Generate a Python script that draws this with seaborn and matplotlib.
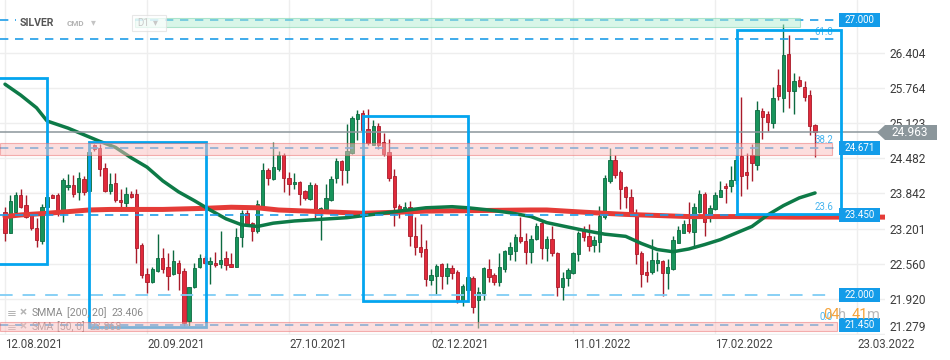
import numpy as np
import pandas as pd
import matplotlib
matplotlib.use("Agg")
import matplotlib.pyplot as plt
import matplotlib.transforms as mtransforms
from matplotlib.patches import Rectangle, Polygon
import seaborn as sns

# daily candles, SILVER (CMD, D1)
opens = [23.51, 23.13, 23.51, 23.81, 23.63, 23.48, 23.22, 22.98, 23.60, 23.81,
         23.81, 23.51, 23.96, 23.99, 23.86, 24.10, 23.88, 24.72, 24.66, 24.31,
         23.89, 24.03, 23.73, 23.67, 23.83, 23.84, 22.90, 22.37, 22.22, 22.43,
         22.66, 22.50, 22.37, 22.57, 22.43, 21.52, 22.13, 22.50, 22.66, 22.56,
         22.58, 22.55, 22.66, 22.56, 22.51, 23.04, 23.49, 23.30, 23.15, 23.60,
         24.27, 24.11, 24.29, 24.54, 24.13, 24.01, 24.05, 23.89, 23.74, 23.99,
         23.53, 23.55, 23.72, 24.12, 24.43, 24.26, 24.58, 25.19, 25.30, 25.01,
         24.73, 25.06, 24.78, 24.60, 24.16, 23.61, 23.54, 23.60, 23.07, 22.86,
         22.83, 22.26, 22.34, 22.55, 22.33, 22.48, 22.41, 21.91, 22.08, 22.30,
         21.90, 22.02, 22.46, 22.36, 22.22, 22.46, 22.74, 22.80, 23.04, 22.98,
         22.78, 23.01, 23.30, 22.84, 23.02, 22.75, 22.13, 22.30, 22.39, 22.73,
         23.15, 23.07, 22.91, 22.96, 23.42, 24.07, 24.45, 24.23, 23.95, 23.78,
         23.49, 22.76, 22.41, 22.42, 22.58, 22.61, 22.39, 22.46, 22.94, 23.13,
         23.29, 23.14, 23.50, 23.83, 23.41, 23.55, 23.78, 23.98, 23.97, 24.08,
         24.52, 24.24, 24.54, 24.35, 25.35, 25.29, 25.13, 25.82, 25.57, 26.38,
         25.71, 25.91, 25.78, 25.63, 25.09]
highs = [23.60, 23.81, 23.87, 23.93, 23.81, 23.51, 23.39, 23.65, 23.85, 23.84,
         23.85, 24.12, 24.19, 24.18, 24.23, 24.16, 24.68, 24.75, 24.74, 24.39,
         24.21, 24.22, 23.93, 23.95, 23.89, 23.93, 22.94, 22.48, 22.51, 23.10,
         22.84, 22.76, 22.81, 22.63, 22.48, 22.14, 22.57, 22.74, 22.70, 22.69,
         22.77, 23.15, 22.80, 22.75, 23.21, 23.54, 23.54, 23.33, 23.72, 24.39,
         24.30, 24.78, 24.61, 24.57, 24.24, 24.21, 24.07, 23.90, 24.05, 24.03,
         23.60, 24.01, 24.15, 24.48, 24.45, 25.11, 25.25, 25.36, 25.36, 25.37,
         25.17, 25.13, 24.94, 24.84, 24.29, 23.65, 23.69, 23.71, 23.42, 23.29,
         22.99, 22.46, 22.56, 22.57, 22.58, 22.54, 22.44, 22.19, 22.36, 22.33,
         22.13, 22.51, 22.64, 22.39, 22.76, 22.81, 22.96, 23.10, 23.42, 23.12,
         23.08, 23.30, 23.36, 23.07, 23.24, 22.78, 22.42, 22.48, 22.78, 23.15,
         23.24, 23.29, 23.07, 23.61, 24.18, 24.66, 24.54, 24.26, 23.98, 23.93,
         23.55, 22.80, 22.62, 23.01, 22.78, 22.63, 22.64, 23.07, 23.24, 23.36,
         23.68, 23.67, 23.90, 23.87, 23.63, 23.87, 24.07, 24.03, 24.34, 24.55,
         25.60, 24.57, 24.74, 25.53, 25.39, 25.35, 25.78, 26.10, 26.93, 26.73,
         26.03, 25.98, 25.89, 25.72, 25.11]
lows = [22.98, 23.12, 23.49, 23.57, 23.39, 23.18, 22.86, 22.92, 23.55, 23.75,
        23.43, 23.33, 23.90, 23.78, 23.73, 23.81, 23.84, 24.62, 24.15, 23.87,
        23.84, 23.69, 23.53, 23.54, 23.75, 22.58, 22.31, 22.02, 22.21, 22.42,
        22.39, 22.08, 22.36, 22.08, 21.42, 21.42, 22.12, 22.48, 22.55, 22.19,
        22.51, 22.48, 22.45, 22.50, 22.50, 22.87, 23.24, 22.98, 23.13, 23.59,
        23.99, 24.09, 24.25, 23.86, 23.81, 23.93, 23.63, 23.72, 23.72, 23.37,
        22.99, 23.54, 23.71, 24.04, 23.99, 24.04, 24.56, 24.81, 24.90, 24.73,
        24.72, 24.65, 24.52, 24.07, 23.25, 23.39, 23.53, 22.88, 22.72, 22.68,
        22.16, 22.17, 22.01, 22.10, 22.19, 22.28, 21.84, 21.79, 22.02, 21.66,
        21.39, 21.90, 22.22, 22.17, 22.16, 22.42, 22.63, 22.62, 22.94, 22.56,
        22.58, 22.99, 22.64, 22.62, 22.70, 21.97, 21.91, 22.16, 22.37, 22.62,
        22.98, 22.80, 22.78, 22.78, 23.37, 24.03, 24.13, 23.55, 23.58, 23.45,
        22.56, 22.13, 22.22, 22.37, 22.43, 21.98, 22.10, 22.45, 22.93, 23.12,
        23.12, 22.84, 23.48, 23.06, 23.33, 23.54, 23.77, 23.67, 23.87, 24.02,
        23.80, 23.92, 24.07, 24.26, 24.83, 24.97, 25.03, 25.54, 25.33, 25.39,
        25.28, 25.78, 25.53, 24.90, 24.50]
closes = [23.13, 23.70, 23.81, 23.60, 23.42, 23.21, 22.99, 23.60, 23.78, 23.76,
          23.53, 24.09, 24.00, 23.84, 24.13, 23.86, 24.60, 24.65, 24.28, 23.89,
          24.01, 23.72, 23.69, 23.83, 23.78, 22.85, 22.36, 22.22, 22.46, 22.66,
          22.46, 22.33, 22.61, 22.40, 21.48, 22.13, 22.48, 22.66, 22.58, 22.61,
          22.53, 22.63, 22.54, 22.51, 23.05, 23.49, 23.27, 23.15, 23.64, 24.27,
          24.12, 24.32, 24.54, 24.12, 24.01, 24.05, 23.84, 23.75, 23.99, 23.55,
          23.57, 23.75, 24.10, 24.43, 24.26, 24.62, 25.22, 25.28, 25.00, 24.76,
          25.06, 24.73, 24.56, 24.13, 23.60, 23.54, 23.59, 23.07, 22.86, 22.78,
          22.28, 22.36, 22.52, 22.33, 22.48, 22.39, 21.91, 22.16, 22.32, 21.78,
          22.04, 22.48, 22.32, 22.22, 22.50, 22.79, 22.86, 23.04, 22.97, 22.78,
          23.01, 23.25, 22.84, 23.02, 22.76, 22.14, 22.30, 22.45, 22.76, 23.12,
          23.04, 22.89, 22.99, 23.43, 24.12, 24.45, 24.18, 23.93, 23.77, 23.49,
          22.74, 22.37, 22.36, 22.63, 22.63, 22.39, 22.51, 22.99, 23.17, 23.29,
          23.15, 23.59, 23.83, 23.33, 23.57, 23.81, 23.90, 23.94, 24.09, 24.45,
          24.16, 24.18, 24.40, 25.36, 25.24, 25.14, 25.57, 25.62, 26.36, 25.71,
          25.89, 25.80, 25.60, 25.07, 24.963]

# time axis labels and the bar each one sits on
date_labels = ["12.08.2021", "20.09.2021", "27.10.2021", "02.12.2021",
               "11.01.2022", "17.02.2022", "23.03.2022"]
date_bars = [0, 27, 54, 81, 108, 135, 162]

price_ticks = [21.279, 21.920, 22.560, 23.201, 23.842, 24.482, 25.123, 25.764, 26.404]

# moving averages
sma50_bars = [0, 3, 6, 8, 12, 15, 18, 21, 24, 27, 30, 33, 36, 39, 42, 45, 48, 51,
              55, 60, 65, 70, 75, 80, 85, 88, 92, 96, 100, 103, 106, 110, 114,
              118, 121, 124, 127, 130, 133, 136, 139, 142, 145, 148, 151, 154]
sma50_vals = [25.83, 25.63, 25.40, 25.16, 25.03, 24.91, 24.79, 24.68, 24.49, 24.32,
              24.07, 23.87, 23.71, 23.54, 23.38, 23.27, 23.24, 23.30, 23.34, 23.37,
              23.40, 23.46, 23.52, 23.58, 23.60, 23.58, 23.54, 23.49, 23.42, 23.31,
              23.25, 23.17, 23.10, 23.06, 22.93, 22.82, 22.78, 22.83, 22.91, 23.00,
              23.12, 23.24, 23.45, 23.62, 23.76, 23.85]
smma200_bars = [0, 3, 8, 12, 16, 20, 30, 38, 43, 48, 52, 60, 68, 75, 80, 90, 100,
                103, 110, 118, 124, 130, 140, 150, 160, 175]
smma200_vals = [23.42, 23.45, 23.48, 23.51, 23.54, 23.55, 23.55, 23.57, 23.59, 23.58,
                23.54, 23.51, 23.48, 23.50, 23.52, 23.53, 23.54, 23.54, 23.50, 23.46,
                23.44, 23.42, 23.42, 23.41, 23.41, 23.41]

# horizontal levels / fibo drawn on the chart
last_price = 24.963
box_levels = [27.000, 24.671, 23.450, 22.000, 21.450]
fib_names = ["61.8", "38.2", "23.6", "0.0"]
fib_levels = [26.647, 24.671, 23.450, 21.450]

# ---------------------------------------------------------------
sns.set_style("white")
plt.rcParams["font.family"] = ["Roboto", "DejaVu Sans"]

W, H = 950, 360
fig = plt.figure(figsize=(W / 100, H / 100), dpi=100)
ax = fig.add_axes([0, 25 / H, 885 / W, 335 / H])
ymin, ymax = 21.264, 27.363
upp = (ymax - ymin) / 335  # price per pixel


def fpx(x, y):
    return x / W, 1 - y / H


bt = mtransforms.blended_transform_factory(ax.transAxes, ax.transData)

o, c = np.array(opens), np.array(closes)
hi, lo = np.array(highs), np.array(lows)
bars = np.arange(len(o))
rising = c >= o
body_col = np.where(rising, "#17945b", "#e12a3b").tolist()
edge_col = np.where(rising, "#0c6a40", "#a91b2a").tolist()

ax.vlines(bars, lo, hi, colors=edge_col, linewidth=1, zorder=2)
ax.bar(bars, np.maximum(np.abs(c - o), 0.015), bottom=np.minimum(o, c), width=0.64,
       color=body_col, edgecolor=edge_col, linewidth=0.6, zorder=2.2)

# moving averages
sns.lineplot(x=smma200_bars, y=smma200_vals, ax=ax, color="#e53b37", linewidth=3.6,
             zorder=3, solid_capstyle="round")
sns.lineplot(x=sma50_bars, y=sma50_vals, ax=ax, color="#0d7a47", linewidth=2.5,
             zorder=3.2, solid_capstyle="round")

# level lines
blue = "#1f9de8"
x_end = 158.4
for lv in [27.000, 26.647, 24.671, 23.450, 21.450]:
    ax.plot([-1, x_end], [lv, lv], color=blue, lw=1.2, dashes=(5, 4), zorder=4)
ax.plot([-1, 157], [22.0, 22.0], color="#7fcdf5", lw=1.3, dashes=(7, 5.5), zorder=4)
ax.axhline(last_price, color="#8b969b", lw=1.1, zorder=4)

# fibo labels
for name, lv in zip(fib_names, fib_levels):
    ax.text(833 / 885, lv + 7.5 * upp, name, transform=bt, ha="right", va="center",
            fontsize=6.9, color="#45b4ef", zorder=4.5)

# boxes
for x0, x1, y0, y1 in [(-3, 8.08, 22.557, 25.943), (15.97, 38.2, 21.415, 24.783),
                       (68.06, 88.0, 21.883, 25.257), (139.1, 158.9, 23.467, 26.817)]:
    ax.add_patch(Rectangle((x0, y0), x1 - x0, y1 - y0, fill=False, ec="#04a5ef",
                           lw=2.0, zorder=5))

# zones
ax.add_patch(Rectangle((24.7, 26.87), 151.1 - 24.7, 0.165, fc="#b3eed3", ec="#6fd0a5",
                       lw=0.8, alpha=0.5, zorder=6))
ax.add_patch(Rectangle((-1, 24.55), 158.2, 0.21, fc="#fabfbf", ec="#eb6b6b",
                       lw=0.8, alpha=0.5, zorder=6))
ax.add_patch(Rectangle((-1, 21.33), 159.2, 0.17, fc="#fabfbf", ec="#eb6b6b",
                       lw=0.8, alpha=0.5, zorder=6))

# right-side level boxes
for lv in box_levels:
    ax.add_patch(Rectangle((839 / 885, lv - 7 * upp), 41 / 885, 14 * upp, transform=bt,
                           fc="#139ce9", ec="none", zorder=7, clip_on=False))
    ax.text(859.5 / 885, lv, f"{lv:.3f}", transform=bt, ha="center", va="center",
            fontsize=7, color="white", zorder=8)

# current price tag
tag = [fpx(877, 132.5), fpx(885, 125), fpx(937, 125), fpx(937, 140), fpx(885, 140)]
ax.add_patch(Polygon(tag, closed=True, transform=fig.transFigure, fc="#8b969b",
                     ec="none", zorder=8, clip_on=False))
ax.text(*fpx(910, 132.5), f"{last_price:.3f}", transform=fig.transFigure, ha="center",
        va="center", fontsize=8.6, color="white", zorder=9)

# timer
for x, s, col in [(823, "04", "#f5a33a"), (838, "h", "#b8b8b8"),
                  (852, "41", "#f5a33a"), (867, "m", "#b8b8b8")]:
    ax.text(*fpx(x, 315), s, transform=fig.transFigure, ha="left", va="center",
            fontsize=10.5, color=col, zorder=9)

# title block
ax.add_patch(Rectangle(fpx(16, 31), (132 - 16) / W, 19 / H, transform=fig.transFigure,
                       fc="white", ec="none", zorder=6.5, clip_on=False))
ax.add_patch(Rectangle(fpx(132, 31), 34 / W, 16 / H, transform=fig.transFigure,
                       fc="white", ec="#dddddd", lw=0.8, alpha=0.7, zorder=6.6, clip_on=False))
ax.text(*fpx(20, 23), "SILVER", transform=fig.transFigure, fontsize=7.6, fontweight="bold",
        color="#555555", va="center", zorder=7)
ax.text(*fpx(67, 24), "CMD", transform=fig.transFigure, fontsize=5.8, fontweight="bold",
        color="#b3b3b3", va="center", zorder=7)
ax.text(*fpx(91, 22), "▾", transform=fig.transFigure, fontsize=7, color="#c4c4c4",
        va="center", zorder=7)
ax.text(*fpx(137, 23), "D1", transform=fig.transFigure, fontsize=7, color="#c8c8c8",
        va="center", zorder=7)
ax.text(*fpx(153, 22), "▾", transform=fig.transFigure, fontsize=7, color="#c8c8c8",
        va="center", zorder=7)

# indicator legend
for yy, parts, z in [(313, [(32, "SMMA"), (67, "[200, 20]"), (112, "23.406")], 7),
                     (327, [(32, "SMA"), (57, "[50, 0]"), (90, "23.868")], 5.5)]:
    ax.text(*fpx(7, yy), "≡", transform=fig.transFigure, fontsize=8.5, color="#b5b5b5",
            va="center", zorder=z)
    ax.text(*fpx(20, yy), "×", transform=fig.transFigure, fontsize=9.5, fontweight="bold",
            color="#b5b5b5", va="center", zorder=z)
    for x, s in parts:
        ax.text(*fpx(x, yy), s, transform=fig.transFigure, fontsize=7.6, color="#8a8a8a",
                va="center", zorder=z)

# axes
ax.set_xlabel("")
ax.set_ylabel("")
for s in ax.spines.values():
    s.set_visible(False)
ax.yaxis.tick_right()
ax.set_yticks(price_ticks)
ax.set_yticklabels([f"{t:.3f}" for t in price_ticks])
ax.set_xticks(date_bars)
ax.set_xticklabels(date_labels, ha="left")
ax.tick_params(axis="y", length=0, pad=3, labelsize=8.6, labelcolor="#3c3c3c")
ax.tick_params(axis="x", length=0, pad=2, labelsize=8.3, labelcolor="#444444")
ax.get_yticklabels()[0].set_va("bottom")
ax.grid(True, color="#eeeeee", lw=1)
ax.set_axisbelow(True)
ax.set_xlim(-0.95, 167.3)
ax.set_ylim(ymin, ymax)

fig.savefig("out.png", dpi=100)
